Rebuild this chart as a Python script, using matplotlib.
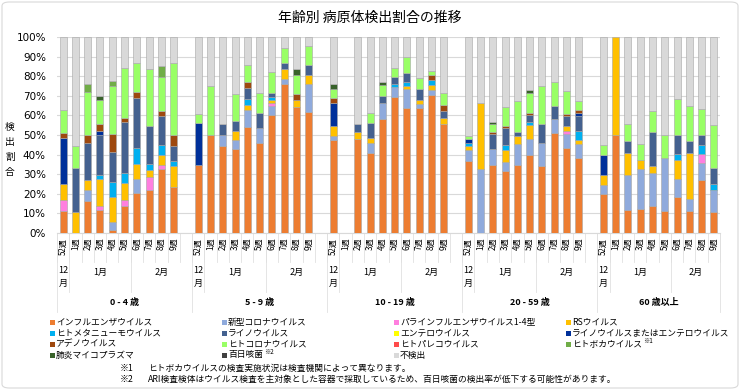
import numpy as np
import matplotlib
matplotlib.use("Agg")
import matplotlib.pyplot as plt
import matplotlib.transforms as mtransforms
from matplotlib.patches import Rectangle, FancyBboxPatch

plt.rcParams['font.family'] = ['Noto Sans CJK JP', 'DejaVu Sans']

W, H = 740, 390

age_groups = ['0 - 4 歳', '5 - 9 歳', '10 - 19 歳', '20 - 59 歳', '60 歳以上']
weeks = ['52週', '1週', '2週', '3週', '4週', '5週', '6週', '7週', '8週', '9週']

# values in % per bar, 10 weeks per age group
flu = [11.1, 0, 16.3, 11.6, 1.7, 13.6, 20.4, 22.1, 32.5, 23.5,
       34.5, 49.8, 44.2, 42.7, 54.1, 46.1, 60.0, 76.2, 64.3, 61.7,
       47.3, 0, 47.8, 40.8, 58.0, 69.4, 63.9, 63.9, 70.6, 55.8,
       36.7, 0, 34.5, 31.5, 34.9, 39.6, 34.2, 51.0, 43.5, 38.3,
       19.7, 49.8, 11.6, 12.1, 13.6, 11.2, 18.4, 11.2, 26.9, 10.7]
cov = [0, 0, 5.8, 0, 3.9, 0, 7.3, 0, 0, 0,
       0, 0, 5.6, 4.6, 8.8, 7.5, 4.8, 2.5, 0, 14.2,
       2.2, 0, 0, 5.1, 8.3, 5.1, 9.7, 2.1, 2.5, 0,
       5.5, 32.8, 8.2, 4.7, 10.7, 8.2, 11.7, 7.3, 7.2, 7.3,
       5.0, 0, 17.8, 20.7, 17.2, 27.2, 9.3, 6.3, 9.0, 11.1]
para = [5.9, 0, 0, 2.0, 0, 3.4, 0, 6.5, 2.4, 0,
        0, 0, 0, 0, 0, 0, 1.5, 0, 0, 0,
        0, 0, 0, 0, 0, 0, 0, 0, 0, 0,
        0, 0, 0, 0, 0, 0, 0, 0, 1.2, 0,
        0, 0, 0, 0, 0, 0, 0, 0, 4.2, 0]
rsv = [8.2, 10.7, 5.1, 14.1, 12.8, 8.5, 7.7, 3.4, 4.7, 10.7,
       0, 0, 0, 4.7, 2.6, 0, 1.4, 5.1, 3.4, 4.9,
       4.9, 0, 3.7, 2.6, 0, 0, 1.4, 1.7, 2.2, 3.0,
       2.0, 33.5, 0, 6.0, 3.7, 7.5, 0, 0, 2.5, 1.7,
       5.1, 50.2, 11.4, 4.6, 3.4, 0, 9.7, 23.3, 0, 0]
hmpv = [0, 0, 0, 2.1, 7.6, 5.1, 8.0, 3.0, 5.1, 2.4,
        0, 0, 0, 0, 2.9, 0, 1.7, 0, 0, 0,
        0, 0, 0, 0, 0, 1.7, 2.0, 0, 2.6, 0,
        1.7, 0, 0, 2.5, 0, 1.3, 0, 0, 0, 4.6,
        0, 0, 0, 0, 0, 0, 3.1, 0, 5.0, 3.4]
rhino = [0, 22.5, 18.7, 20.0, 15.3, 26.0, 25.6, 19.6, 15.0, 7.8,
         0, 0, 5.6, 5.1, 5.7, 7.8, 2.0, 2.9, 0, 4.7,
         0, 0, 4.3, 7.6, 3.4, 3.4, 4.8, 5.8, 0, 3.4,
         0, 0, 7.6, 9.0, 2.2, 3.8, 9.5, 6.5, 5.3, 7.8,
         0, 0, 6.1, 0, 17.3, 0, 9.3, 6.1, 4.7, 8.0]
entero = [0] * 50
rhino_entero = [23.3, 0, 0, 2.2, 0, 0, 0, 0, 0, 0,
                21.6, 0, 0, 0, 0, 0, 0, 0, 0, 0,
                11.9, 0, 0, 0, 0, 0, 0, 0, 0, 0,
                1.9, 0, 0, 0, 0, 0, 0, 0, 0, 1.5,
                9.8, 0, 0, 0, 0, 0, 0, 0, 0, 0]
adeno = [2.5, 0, 3.9, 3.8, 9.4, 2.1, 2.8, 0, 2.5, 5.4,
         0, 0, 0, 0, 2.9, 0, 0, 0, 3.0, 0,
         2.6, 0, 0, 0, 0, 0, 0, 0, 2.5, 3.3,
         0, 0, 1.2, 0.9, 0, 1.0, 0, 0, 1.2, 1.7,
         0, 0, 0, 0, 0, 0, 0, 0, 0, 0]
hcov = [11.6, 11.0, 22.1, 11.9, 24.3, 25.7, 15.1, 29.2, 17.4, 36.9,
        4.4, 25.0, 0, 14.0, 8.5, 10.2, 10.7, 7.9, 9.7, 9.7,
        4.7, 0, 0, 5.1, 5.6, 4.8, 8.0, 5.8, 2.3, 6.1,
        1.7, 0, 3.9, 9.7, 15.8, 10.0, 19.8, 12.2, 11.4, 4.4,
        5.1, 0, 8.9, 8.2, 10.6, 11.4, 18.7, 17.7, 13.6, 22.1]
pareco = [0] * 50
boca = [0, 0, 4.0, 0, 2.4, 0, 0, 0, 5.4, 0,
        0, 0, 0, 0, 0, 0, 0, 0, 0, 0,
        0, 0, 0, 0, 0, 0, 0, 0, 0, 0,
        0, 0, 0, 0, 0, 0, 0, 0, 0, 0,
        0, 0, 0, 0, 0, 0, 0, 0, 0, 0]
myco = [0, 0, 0, 2.2, 0, 0, 0, 0, 0, 0,
        0, 0, 0, 0, 0, 0, 0, 0, 3.4, 0,
        2.3, 0, 0, 0, 1.7, 0, 0, 0, 0, 0,
        0, 0, 1.2, 0, 0, 1.4, 0, 0, 0, 0,
        0, 0, 0, 0, 0, 0, 0, 0, 0, 0]
pertussis = [0] * 50
not_detected = [37.4, 55.8, 24.1, 30.1, 22.6, 15.6, 13.1, 16.2, 15.0, 13.3,
                39.5, 25.2, 44.6, 28.9, 14.5, 28.4, 17.9, 5.4, 16.2, 4.8,
                24.1, 0, 44.2, 38.8, 23.0, 15.6, 10.2, 20.7, 17.3, 28.4,
                50.5, 33.7, 43.4, 35.7, 32.7, 27.2, 24.8, 23.0, 27.7, 32.7,
                55.3, 0, 44.2, 54.4, 37.9, 50.2, 31.5, 35.4, 36.6, 44.7]

series = [
    ('インフルエンザウイルス', '#ED7D31', flu, ''),
    ('新型コロナウイルス', '#8FAADC', cov, ''),
    ('パラインフルエンザウイルス1-4型', '#FF7FDF', para, ''),
    ('RSウイルス', '#FFC000', rsv, ''),
    ('ヒトメタニューモウイルス', '#00B0F0', hmpv, ''),
    ('ライノウイルス', '#44618F', rhino, ''),
    ('エンテロウイルス', '#FFFF00', entero, ''),
    ('ライノウイルスまたはエンテロウイルス', '#00309A', rhino_entero, ''),
    ('アデノウイルス', '#9E480E', adeno, ''),
    ('ヒトコロナウイルス', '#99FF66', hcov, ''),
    ('ヒトパレコウイルス', '#FF4B4B', pareco, ''),
    ('ヒトボカウイルス', '#70AD47', boca, '※1'),
    ('肺炎マイコプラズマ', '#38622A', myco, ''),
    ('百日咳菌', '#404040', pertussis, '※2'),
    ('不検出', '#D9D9D9', not_detected, ''),
]

fig = plt.figure(figsize=(W / 100, H / 100), dpi=100)
fig.patches.append(FancyBboxPatch((2 / W, 2 / H), 1 - 4 / W, 1 - 4 / H,
                                  boxstyle='round,pad=0,rounding_size=0.01',
                                  transform=fig.transFigure, fc='white',
                                  ec='#D9D9D9', lw=0.8, zorder=-10))

ax = fig.add_axes([57 / W, 1 - 233 / H, (720 - 57) / W, (233 - 37) / H])
ax.patch.set_alpha(0)

pos = np.array([g * 11 + w for g in range(len(age_groups)) for w in range(len(weeks))])
bottom = np.zeros(len(pos))
for name, color, vals, _ in series:
    v = np.array(vals, dtype=float)
    m = v > 0
    if m.any():
        ax.bar(pos[m], v[m], 0.57, bottom=bottom[m], color=color,
               edgecolor='#A6A6A6', linewidth=0.4, zorder=3)
    bottom += v

ax.set_xlim(-0.5, 53.5)
ax.set_ylim(0, 100)
ax.set_yticks(range(0, 101, 10))
ax.set_yticklabels([f'{t}%' for t in range(0, 101, 10)], fontsize=7.5,
                   family=['DejaVu Sans'])
ax.yaxis.grid(True, color='#D9D9D9', lw=0.8, zorder=0)
ax.tick_params(axis='y', length=0, pad=8)
ax.set_xticks(pos)
ax.set_xticklabels(weeks * len(age_groups), rotation=90, fontsize=5.8, va='top')
ax.tick_params(axis='x', length=0, pad=3.5)
for s in ['top', 'right', 'left']:
    ax.spines[s].set_visible(False)
ax.spines['bottom'].set_color('#D9D9D9')

# multi-level category separators
tr = mtransforms.blended_transform_factory(ax.transData, fig.transFigure)
ln = dict(color='#E0E0E0', lw=0.6, transform=tr, clip_on=False)
y0 = 1 - 233 / H
for k in range(55):
    ax.plot([k - 0.5, k - 0.5], [y0, 1 - 262 / H], **ln)
for g in range(len(age_groups)):
    for b in [0.5, 5.5]:
        ax.plot([g * 11 + b] * 2, [y0, 1 - 292 / H], **ln)
    ax.plot([g * 11 - 0.5] * 2, [y0, 1 - 312 / H], **ln)
ax.plot([53.5] * 2, [y0, 1 - 312 / H], **ln)

for g, age in enumerate(age_groups):
    last = g == len(age_groups) - 1
    ax.text(g * 11, 1 - 277 / H, '12\n月', transform=tr, ha='center', va='center',
            fontsize=6.5, linespacing=1.5)
    ax.text(g * 11 + 3, 1 - 272 / H, '1月', transform=tr, ha='center', va='center',
            fontsize=6.5)
    ax.text(g * 11 + (7.5 if last else 8), 1 - 272 / H, '2月', transform=tr,
            ha='center', va='center', fontsize=6.5)
    ax.text(g * 11 + (4.5 if last else 5), 1 - 302 / H, age, transform=tr,
            ha='center', va='center', fontsize=6.5, fontweight='bold')

fig.text(370 / W, 1 - 18 / H, '年齢別 病原体検出割合の推移', ha='center', va='center',
         fontsize=10)
for i, ch in enumerate('検出割合'):
    fig.text(10 / W, 1 - (127 + 15 * i) / H, ch, ha='center', va='center', fontsize=7)

# legend
col_x = [50, 222, 394, 566]
row_y = [322, 333, 344, 355]
renderer = fig.canvas.get_renderer()
for i, (name, color, _, sup) in enumerate(series):
    x, y = col_x[i % 4], row_y[i // 4]
    fig.patches.append(Rectangle((x / W, 1 - (y + 2.5) / H), 5 / W, 5 / H,
                                 transform=fig.transFigure, fc=color, ec='none'))
    t = fig.text((x + 6) / W, 1 - y / H, name, ha='left', va='center', fontsize=6.3)
    if sup:
        bb = t.get_window_extent(renderer)
        fig.text(bb.x1 / W + 1 / W, 1 - (y - 3) / H, sup, ha='left', va='center',
                 fontsize=4.5)

notes = [('※1', 'ヒトボカウイルスの検査実施状況は検査機関によって異なります。'),
         ('※2', 'ARI検査検体はウイルス検査を主対象とした容器で採取しているため、百日咳菌の検出率が低下する可能性があります。')]
for j, (mark, txt) in enumerate(notes):
    y = 368 + 11 * j
    fig.text(120 / W, 1 - y / H, mark, ha='left', va='center', fontsize=6.3)
    fig.text(148 / W, 1 - y / H, txt, ha='left', va='center', fontsize=6.3)

fig.savefig('out.png', dpi=100)
